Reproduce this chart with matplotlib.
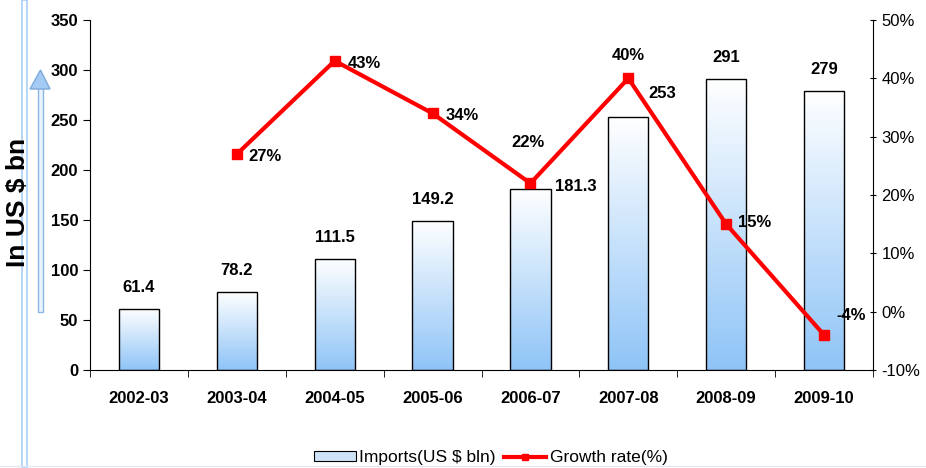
import numpy as np
import matplotlib
from matplotlib import pyplot as plt
from matplotlib.colors import LinearSegmentedColormap
from matplotlib.patches import Patch, Polygon, Rectangle
from matplotlib.lines import Line2D

matplotlib.use('agg')
plt.rcParams['font.family'] = ['Liberation Sans', 'DejaVu Sans']

years = ['2002-03', '2003-04', '2004-05', '2005-06', '2006-07', '2007-08', '2008-09', '2009-10']
imports = [61.4, 78.2, 111.5, 149.2, 181.3, 253, 291, 279]
growth = [None, 27, 43, 34, 22, 40, 15, -4]
import_labels = ['61.4', '78.2', '111.5', '149.2', '181.3', '253', '291', '279']
growth_labels = ['', '27%', '43%', '34%', '22%', '40%', '15%', '-4%']

W, H = 926, 468
fig = plt.figure(figsize=(W / 100, H / 100), dpi=100)
ax = fig.add_axes([90 / W, 1 - 370 / H, 783 / W, 350 / H])
x = np.arange(len(years))

bars = ax.bar(x, imports, width=0.41, color='none', edgecolor='black', linewidth=1.0, zorder=3)
cmap = LinearSegmentedColormap.from_list('grad', ['#ffffff', '#8fc4f7'])
grad = np.linspace(0, 1, 256).reshape(-1, 1)
for b in bars:
    x0, y0 = b.get_x(), b.get_y()
    w, h = b.get_width(), b.get_height()
    im = ax.imshow(grad, cmap=cmap, aspect='auto', extent=[x0, x0 + w, y0, y0 + h],
                   origin='upper', zorder=2)
    im.set_clip_path(b)

ax.set_xlim(-0.5, 7.5)
ax.set_ylim(0, 350)
ax.set_yticks(range(0, 351, 50))
ax.set_xticks(x)
ax.set_xticklabels(years, fontsize=12, fontweight='bold')
ax.set_xticks(np.arange(-0.5, 8, 1), minor=True)
ax.tick_params(axis='x', which='major', length=0, pad=15)
ax.tick_params(axis='x', which='minor', length=5, direction='out')
ax.tick_params(axis='y', length=5, direction='out', labelsize=12)
for t in ax.get_yticklabels():
    t.set_fontweight('bold')
ax.spines['top'].set_visible(False)
ax.spines['right'].set_visible(False)
ax.set_ylabel('In US $ bn', fontsize=19, fontweight='bold')
ax.yaxis.set_label_coords(-0.077, 0.48)

# import value labels, offsets in pixels (dx, dy, ha, va)
px = 0.72
offsets = [(0, 14, 'center', 'bottom'), (0, 14, 'center', 'bottom'), (0, 14, 'center', 'bottom'),
           (0, 14, 'center', 'bottom'), (25, 2, 'left', 'center'), (20, 24, 'left', 'center'),
           (0, 14, 'center', 'bottom'), (0, 14, 'center', 'bottom')]
for i, (v, lab) in enumerate(zip(imports, import_labels)):
    dx, dy, ha, va = offsets[i]
    ax.annotate(lab, (x[i], v), xytext=(dx * px, dy * px), textcoords='offset points',
                ha=ha, va=va, fontsize=12, fontweight='bold', zorder=6)

ax2 = ax.twinx()
gx = [i for i, g in enumerate(growth) if g is not None]
gy = [g for g in growth if g is not None]
ax2.plot(gx, gy, color='#ff0000', linewidth=3, marker='s', markersize=6.5, zorder=5)
ax2.set_ylim(-10, 50)
ax2.set_yticks(range(-10, 51, 10))
ax2.set_yticklabels([f'{t}%' for t in range(-10, 51, 10)], fontsize=12)
ax2.tick_params(axis='y', length=5, direction='inout')
ax2.spines['top'].set_visible(False)
ax2.spines['left'].set_visible(False)
ax2.spines['bottom'].set_visible(False)

g_offsets = {1: (12, -2, 'left', 'center'), 2: (13, -3, 'left', 'center'), 3: (13, -2, 'left', 'center'),
             4: (-2, 33, 'center', 'bottom'), 5: (0, 15, 'center', 'bottom'),
             6: (12, 2, 'left', 'center'), 7: (12, 19, 'left', 'center')}
for i in gx:
    dx, dy, ha, va = g_offsets[i]
    ax2.annotate(growth_labels[i], (x[i], growth[i]), xytext=(dx * px, dy * px), textcoords='offset points',
                 ha=ha, va=va, fontsize=12, fontweight='bold', zorder=6)

# left decoration (pixel positions -> figure fraction)
def fx(p):
    return p / W

def fy(p):
    return 1 - p / H

fig.add_artist(Rectangle((fx(21.5), 0), fx(5.5), 1, facecolor='white', edgecolor='#a8cff5',
                         linewidth=1.2, transform=fig.transFigure, zorder=0))
fig.add_artist(Rectangle((fx(38), fy(312)), fx(5), fy(88) - fy(312), facecolor='#eaf3fd',
                         edgecolor='#8ab6e8', linewidth=1, transform=fig.transFigure))
fig.add_artist(Polygon([(fx(30), fy(89)), (fx(50), fy(89)), (fx(40.5), fy(70))], closed=True,
                       facecolor='#a3cbf3', edgecolor='#7fa9da', linewidth=1, transform=fig.transFigure))
fig.add_artist(Line2D([0, 1], [fy(466), fy(466)], color='#dce9f7', linewidth=1, transform=fig.transFigure))

handles = [Patch(facecolor='#cfe3f8', edgecolor='black', linewidth=0.8, label='Imports(US $ bln)'),
           Line2D([0], [0], color='#ff0000', linewidth=3, marker='s', markersize=5, label='Growth rate(%)')]
fig.legend(handles=handles, loc='lower center', bbox_to_anchor=(0.53, -0.028), ncol=2, frameon=False,
           fontsize=12.5, handlelength=2.4, handleheight=0.5, handletextpad=0.2, columnspacing=0.5)

fig.savefig('out.png', dpi=100)
